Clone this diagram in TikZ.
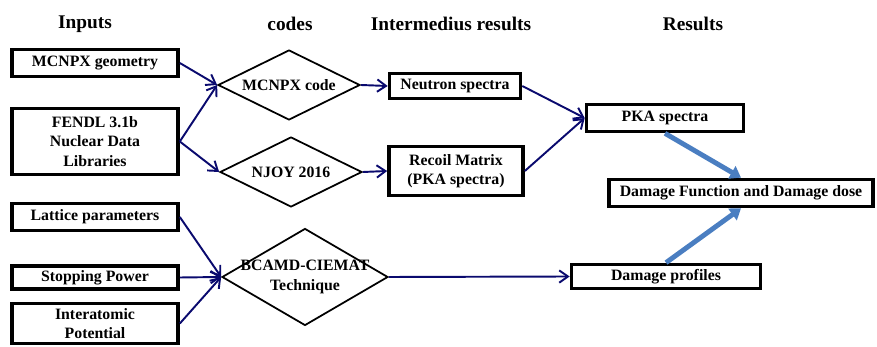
\documentclass[tikz,border=0pt]{standalone}
\usepackage{fontspec}
\setmainfont{Liberation Serif}
\usetikzlibrary{shapes.geometric,arrows.meta}
\definecolor{navyline}{RGB}{10,10,110}
\definecolor{steelline}{RGB}{74,126,193}

\begin{document}
\begin{tikzpicture}[x=0.02cm, y=-0.02cm,
  heading/.style={font=\fontsize{11}{13}\selectfont\bfseries},
  databox/.style={draw, line width=2.1pt, inner sep=0pt, align=center,
    font=\fontsize{9}{11}\selectfont\bfseries},
  codeshape/.style={diamond, draw, line width=1pt, inner sep=0pt,
    label={[align=center, font=\fontsize{9}{11}\selectfont\bfseries]center:#1}},
  flow/.style={navyline, line width=1.1pt, -{Straight Barb[length=5pt,width=7pt]}},
  bigflow/.style={steelline, line width=2.8pt, -{Triangle[length=6pt,width=8pt]}}]
  \useasboundingbox (0,0) rectangle (877,347);

  % Column headings
  \node[heading] (hin)   at (85,24)  {Inputs};
  \node[heading] (hcode) at (290,24) {codes};
  \node[heading] (hmid)  at (451,24) {Intermedius results};
  \node[heading] (hres)  at (693,24) {Results};

  % Inputs
  \node[databox, minimum width=3.32cm, minimum height=0.54cm] (geom) at (95,63) {MCNPX geometry};
  \node[databox, minimum width=3.32cm, minimum height=1.32cm] (fendl) at (95,141.5) {FENDL 3.1b\\Nuclear Data\\Libraries};
  \node[databox, minimum width=3.32cm, minimum height=0.54cm] (lattice) at (95,217) {Lattice parameters};
  \node[databox, minimum width=3.32cm, minimum height=0.46cm] (stopping) at (95,277.5) {Stopping Power};
  \node[databox, minimum width=3.32cm, minimum height=0.80cm] (interatomic) at (95,323.5) {Interatomic\\Potential};

  % Codes
  \node[codeshape={MCNPX code}, minimum width=2.84cm, minimum height=1.4cm] (mcode) at (289,85) {};
  \node[codeshape={NJOY 2016}, minimum width=2.84cm, minimum height=1.4cm] (njoy) at (291,172) {};
  \node[codeshape={BCAMD-CIEMAT\\Technique}, minimum width=3.32cm, minimum height=1.94cm] (bcamd) at (305,277) {};

  % Intermediate results
  \node[databox, minimum width=2.62cm, minimum height=0.50cm] (neutron) at (455,86) {Neutron spectra};
  \node[databox, minimum width=2.68cm, minimum height=0.98cm] (recoil) at (456,171) {Recoil Matrix\\(PKA spectra)};

  % Results
  \node[databox, minimum width=3.14cm, minimum height=0.54cm] (pka) at (665,118) {PKA spectra};
  \node[databox, minimum width=5.28cm, minimum height=0.54cm] (dmg) at (741,193) {Damage Function and Damage dose};
  \node[databox, minimum width=3.78cm, minimum height=0.48cm] (prof) at (666,276.5) {Damage profiles};

  % Connectors
  \draw[flow] (geom.east) -- (mcode.west);
  \draw[flow] (fendl.east) -- (mcode.west);
  \draw[flow] (fendl.east) -- (njoy.west);
  \draw[flow] (lattice.east) -- (bcamd.west);
  \draw[flow] (stopping.east) -- (bcamd.west);
  \draw[flow] (interatomic.east) -- (bcamd.west);
  \draw[flow] (mcode.east) -- (neutron.west);
  \draw[flow] (njoy.east) -- (recoil.west);
  \draw[flow] (bcamd.east) -- (prof.west);
  \draw[flow] (neutron.east) -- (pka.west);
  \draw[flow] (recoil.east) -- (pka.west);

  % Final results
  \draw[bigflow] (pka.south) -- (dmg.north);
  \draw[bigflow] (prof.north) -- (dmg.south);
\end{tikzpicture}
\end{document}
